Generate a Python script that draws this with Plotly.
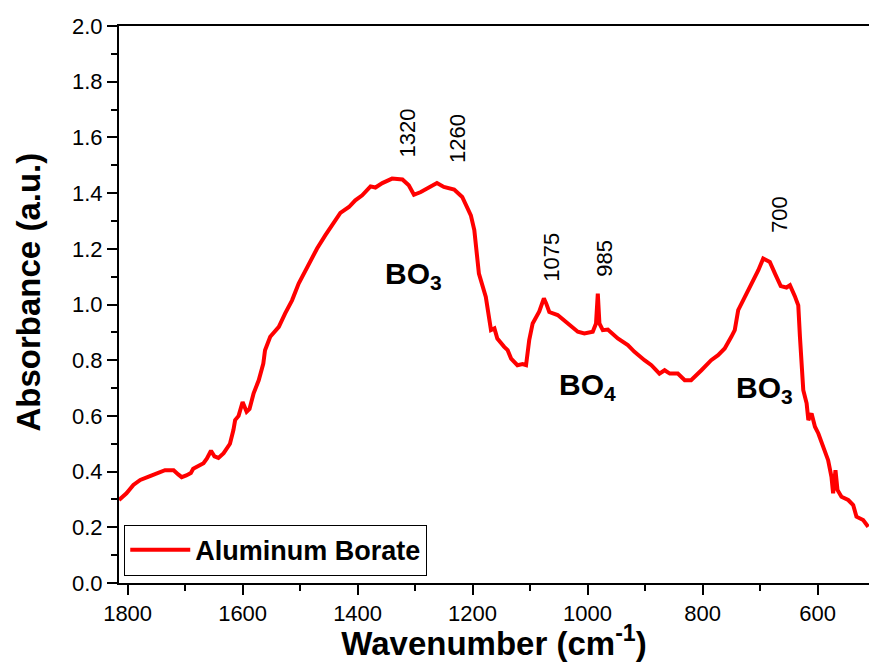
import plotly.graph_objects as go

wavenumber = [1815, 1802, 1790, 1778, 1760, 1749, 1735, 1725, 1720, 1712, 1706, 1698, 1690, 1686,
              1680, 1668, 1662, 1655, 1649, 1642, 1633, 1622, 1616, 1613, 1607, 1600, 1593, 1588,
              1581, 1572, 1564, 1561, 1552, 1537, 1526, 1514, 1502.5, 1485, 1470.5, 1456, 1438.5,
              1430, 1415, 1404, 1392, 1377.5, 1369, 1357, 1340, 1322, 1311, 1302, 1290, 1273,
              1262, 1250, 1232, 1218, 1203, 1197, 1189,
              1177, 1168, 1162, 1157, 1145, 1139, 1133, 1122, 1113, 1107, 1101.5, 1095.5, 1084,
              1076, 1072, 1066.6, 1052, 1034.5, 1017, 1005.6, 991, 985.3, 982.2, 979.4, 973.5,
              964.8, 947.4, 930, 918.4, 901, 889, 875, 866, 857, 843, 831, 820, 802, 785, 773,
              761.5, 750, 744, 738, 726.6, 712, 703, 694.5, 683, 674, 664, 654, 648, 639.5, 633.5,
              630.6, 624.8, 619, 616, 610.4, 604.5, 598.6, 590, 581.6, 575.8, 572.9, 568.8, 565.3,
              558.4, 546.7, 538, 532.3, 520.6, 511.9]
absorbance = [0.298, 0.322, 0.352, 0.370, 0.385, 0.394, 0.405, 0.405, 0.405, 0.390, 0.380, 0.386,
              0.395, 0.410, 0.417, 0.430, 0.447, 0.475, 0.455, 0.449, 0.466, 0.500, 0.549, 0.585,
              0.600, 0.650, 0.615, 0.625, 0.680, 0.728, 0.788, 0.836, 0.884, 0.920, 0.968, 1.015,
              1.075, 1.147, 1.201, 1.249, 1.302, 1.329, 1.350, 1.374, 1.392, 1.424, 1.420, 1.436,
              1.452, 1.449, 1.428, 1.394, 1.404, 1.422,
              1.436, 1.422, 1.413, 1.386, 1.320, 1.267, 1.111, 1.027, 0.908, 0.914, 0.878,
              0.848, 0.836, 0.806, 0.782, 0.786, 0.782, 0.872, 0.932, 0.975, 1.022, 1.004, 0.973,
              0.962, 0.932, 0.902, 0.896, 0.902, 0.932, 1.039, 0.932, 0.908, 0.910, 0.878, 0.854,
              0.830, 0.800, 0.782, 0.752, 0.764, 0.752, 0.752, 0.728, 0.728, 0.764, 0.800, 0.818,
              0.842, 0.884, 0.908, 0.980, 1.027, 1.081, 1.123, 1.165, 1.153, 1.111, 1.066, 1.061,
              1.069, 1.030, 0.997, 0.884, 0.692, 0.645, 0.585, 0.609, 0.561, 0.537, 0.489, 0.441,
              0.381, 0.322, 0.405, 0.334, 0.310, 0.298, 0.280, 0.238, 0.226, 0.202]

peak_labels = ["1320", "1260", "1075", "985", "700"]
peak_x = [1313, 1226, 1062, 971, 666]
peak_y = [1.616, 1.597, 1.171, 1.165, 1.324]

group_labels = ["BO<sub>3</sub>", "BO<sub>4</sub>", "BO<sub>3</sub>"]
group_x = [1302, 1000, 692]
group_y = [1.105, 0.705, 0.695]

series_name = "Aluminum Borate"
x_title = "Wavenumber (cm<sup>-1</sup>)"
y_title = "Absorbance (a.u.)"

FONT = "Liberation Sans, Arial, sans-serif"

fig = go.Figure()
fig.add_trace(go.Scatter(x=wavenumber, y=absorbance, mode="lines", name=series_name,
                         line=dict(color="#ff0000", width=4)))

for t, x, y in zip(peak_labels, peak_x, peak_y):
    fig.add_annotation(x=x, y=y, text=t, textangle=-90, showarrow=False,
                       font=dict(family=FONT, size=22, color="black"))
for t, x, y in zip(group_labels, group_x, group_y):
    fig.add_annotation(x=x, y=y, text="<b>" + t + "</b>", showarrow=False,
                       font=dict(family=FONT, size=30, color="black"))

# y-axis title placed as a rotated annotation to match the reference position
fig.add_annotation(xref="paper", yref="paper", x=-0.121, y=0.522, text="<b>" + y_title + "</b>",
                   textangle=-90, showarrow=False, xanchor="center", yanchor="middle",
                   font=dict(family=FONT, size=33, color="black"))

fig.update_layout(
    width=869, height=662,
    margin=dict(l=119, r=0, t=26, b=79),
    paper_bgcolor="white", plot_bgcolor="white",
    font=dict(family=FONT, size=22, color="black"),
    showlegend=True,
    legend=dict(x=0.007, y=0.013, xanchor="left", yanchor="bottom",
                bordercolor="black", borderwidth=1, bgcolor="white",
                font=dict(family=FONT, size=27, color="black", weight="bold"),
                itemwidth=60, tracegroupgap=0),
    xaxis=dict(range=[1815, 510.5], showgrid=False, zeroline=False,
               showline=True, linecolor="black", linewidth=2, mirror=True,
               ticks="outside", ticklen=10, tickwidth=2, tickcolor="black",
               tickmode="array", tickvals=[1800, 1600, 1400, 1200, 1000, 800, 600],
               tickfont=dict(family=FONT, size=22, color="black"),
               minor=dict(ticks="outside", ticklen=6, tickwidth=2, tickcolor="black",
                          tickvals=[1700, 1500, 1300, 1100, 900, 700]),
               title=dict(text="<b>" + x_title + "</b>", standoff=4,
                          font=dict(family=FONT, size=33, color="black"))),
    yaxis=dict(range=[0, 2.0], showgrid=False, zeroline=False,
               showline=True, linecolor="black", linewidth=2,
               ticks="outside", ticklen=10, tickwidth=2, tickcolor="black",
               tick0=0, dtick=0.2, tickformat=".1f",
               tickfont=dict(family=FONT, size=22, color="black"),
               minor=dict(ticks="outside", ticklen=6, tickwidth=2, tickcolor="black", dtick=0.1)),
)

fig.write_html("out.html")
